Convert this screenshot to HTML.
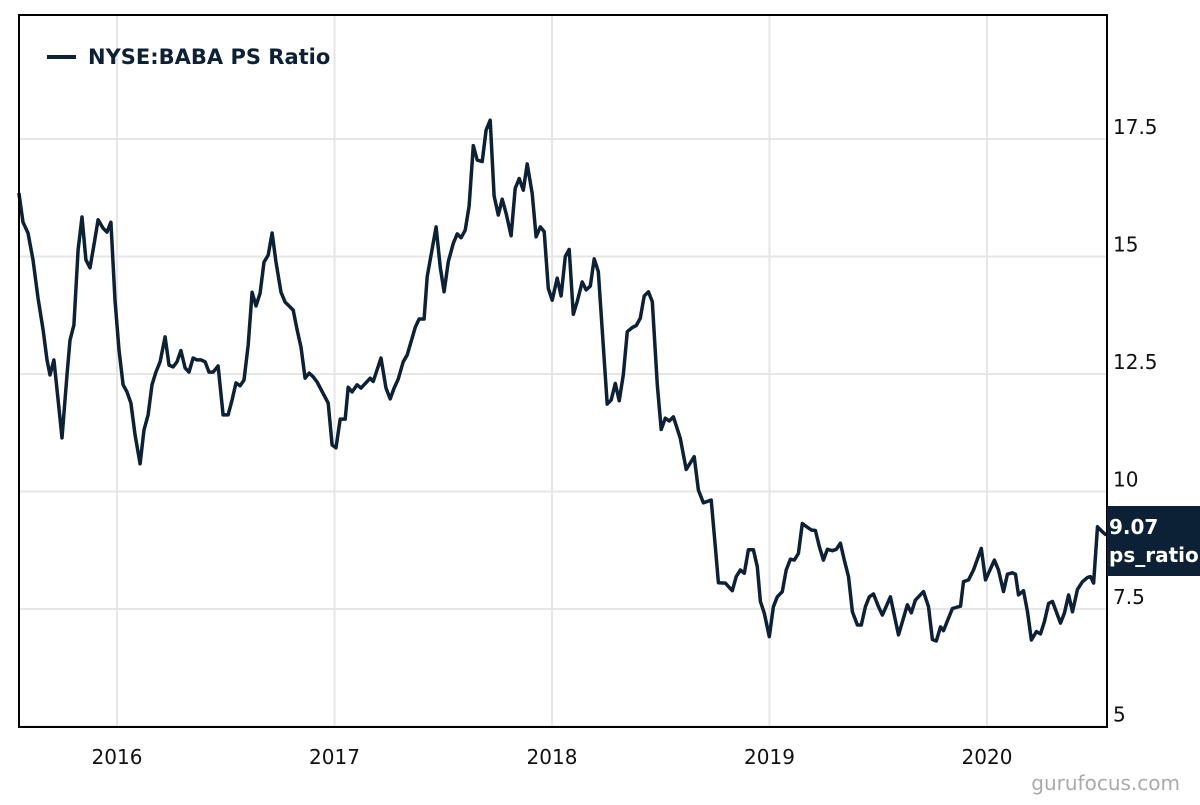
<!DOCTYPE html>
<html><head><meta charset="utf-8"><style>
body{margin:0;background:#fff;width:1200px;height:800px;overflow:hidden;font-family:"Liberation Sans",sans-serif}
svg text{font-family:"DejaVu Sans","Liberation Sans",sans-serif}
</style></head><body>
<svg id="chart" width="1200" height="800" xmlns="http://www.w3.org/2000/svg">
<g id="grid"></g>
<g id="axes"></g>
<path id="line" fill="none" stroke="#0d2136" stroke-width="3.5" stroke-linejoin="round"/>
<rect x="19" y="15" width="1088" height="712" fill="none" stroke="#000" stroke-width="2"/>
<g>
<line x1="47" y1="57" x2="76" y2="57" stroke="#0d2136" stroke-width="4"/>
<text x="88" y="64" font-size="21" font-weight="bold" fill="#0d2136">NYSE:BABA PS Ratio</text>
</g>
<g>
<rect x="1107" y="506" width="93" height="70" fill="#0d2136"/>
<text x="1109" y="534" font-size="20" font-weight="bold" fill="#fff">9.07</text>
<text x="1109" y="562" font-size="20" font-weight="bold" fill="#fff">ps_ratio</text>
</g>
<text x="1180" y="790" text-anchor="end" font-size="20" fill="#aaa">gurufocus.com</text>
</svg>
<script>
const dates = [2015.549,2015.568,2015.591,2015.614,2015.637,2015.660,2015.678,2015.692,2015.710,2015.729,2015.747,2015.770,2015.784,2015.802,2015.821,2015.839,2015.857,2015.876,2015.894,2015.913,2015.936,2015.954,2015.972,2015.991,2016.009,2016.028,2016.046,2016.064,2016.083,2016.106,2016.124,2016.143,2016.161,2016.179,2016.198,2016.221,2016.239,2016.258,2016.276,2016.294,2016.313,2016.331,2016.350,2016.368,2016.386,2016.405,2016.423,2016.442,2016.465,2016.488,2016.511,2016.529,2016.547,2016.566,2016.584,2016.603,2016.621,2016.639,2016.658,2016.676,2016.695,2016.713,2016.731,2016.754,2016.773,2016.791,2016.810,2016.828,2016.846,2016.865,2016.883,2016.902,2016.920,
2016.971,2016.989,2017.007,2017.026,2017.049,2017.063,2017.081,2017.104,2017.122,2017.164,2017.178,2017.214,2017.237,2017.256,2017.274,2017.293,2017.316,2017.334,2017.371,2017.389,2017.412,2017.426,2017.467,2017.486,2017.504,2017.523,2017.546,2017.564,2017.582,2017.601,2017.619,2017.638,2017.656,2017.679,2017.697,2017.716,2017.734,2017.753,2017.771,2017.789,2017.812,2017.831,2017.849,2017.868,2017.886,2017.909,2017.927,2017.946,2017.964,2017.983,2018.001,2018.024,2018.042,2018.061,2018.079,2018.098,2018.116,2018.139,2018.157,2018.176,2018.194,2018.213,2018.254,2018.272,2018.291,2018.309,2018.328,2018.346,2018.369,2018.387,2018.406,2018.424,2018.443,2018.461,2018.484,2018.502,2018.521,2018.539,2018.558,
2018.590,2018.617,2018.654,2018.673,2018.696,2018.732,2018.751,2018.765,2018.797,2018.829,2018.847,2018.866,2018.884,2018.903,2018.926,2018.944,2018.958,2018.976,2018.999,2019.018,2019.036,2019.059,2019.077,2019.096,2019.114,2019.133,2019.151,2019.174,2019.192,2019.211,2019.229,2019.248,2019.266,2019.289,2019.307,2019.326,2019.344,2019.363,2019.381,2019.404,2019.422,2019.441,2019.459,2019.478,2019.501,
2019.519,2019.556,2019.593,2019.634,2019.652,2019.671,2019.708,2019.731,2019.749,2019.767,2019.786,2019.800,2019.841,2019.878,2019.892,2019.915,2019.938,2019.974,2019.993,2020.034,2020.053,2020.076,2020.094,2020.117,2020.131,2020.145,2020.168,2020.186,2020.204,2020.227,2020.246,2020.264,2020.283,2020.301,2020.338,2020.356,2020.375,2020.393,2020.416,2020.439,2020.462,2020.476,2020.490,2020.508,2020.531,2020.549];
const values = [16.35,15.73,15.5,14.93,14.12,13.44,12.8,12.48,12.8,11.95,11.14,12.48,13.22,13.54,15.14,15.84,14.93,14.76,15.24,15.78,15.6,15.52,15.73,14.07,13.01,12.27,12.12,11.88,11.2,10.59,11.31,11.63,12.27,12.54,12.76,13.29,12.69,12.65,12.76,13.0,12.63,12.54,12.84,12.8,12.8,12.76,12.54,12.54,12.67,11.63,11.63,11.95,12.31,12.25,12.37,13.12,14.24,13.95,14.22,14.88,15.03,15.5,14.88,14.24,14.03,13.95,13.86,13.44,13.07,12.41,12.52,12.44,12.33,
11.88,10.99,10.93,11.54,11.54,12.22,12.12,12.27,12.2,12.41,12.34,12.84,12.2,11.97,12.2,12.39,12.76,12.9,13.49,13.67,13.67,14.57,15.63,14.78,14.25,14.89,15.28,15.48,15.4,15.56,16.07,17.36,17.05,17.02,17.69,17.9,16.29,15.88,16.22,15.92,15.44,16.45,16.66,16.41,16.97,16.34,15.42,15.63,15.53,14.32,14.07,14.54,14.16,15.0,15.15,13.77,14.04,14.46,14.29,14.37,14.95,14.68,11.86,11.95,12.3,11.93,12.48,13.4,13.49,13.53,13.69,14.16,14.25,14.04,12.27,11.32,11.56,11.5,11.59,
11.13,10.47,10.74,10.03,9.76,9.82,8.83,8.06,8.05,7.89,8.19,8.33,8.26,8.76,8.76,8.4,7.66,7.41,6.91,7.55,7.76,7.87,8.33,8.56,8.54,8.68,9.32,9.24,9.18,9.17,8.83,8.54,8.77,8.74,8.77,8.9,8.54,8.19,7.44,7.16,7.16,7.55,7.76,7.82,7.55,
7.37,7.76,6.95,7.59,7.42,7.69,7.87,7.55,6.85,6.82,7.12,7.04,7.51,7.56,8.08,8.12,8.33,8.79,8.12,8.54,8.33,7.87,8.24,8.27,8.24,7.8,7.89,7.44,6.84,7.02,6.97,7.23,7.62,7.66,7.2,7.41,7.8,7.44,7.92,8.08,8.17,8.19,8.05,9.25,9.14,9.07];
const yTicks = [5,7.5,10,12.5,15,17.5];
const yTickLabels = ["5","7.5","10","12.5","15","17.5"];
const xTicks = [2016,2017,2018,2019,2020];
const xTickLabels = ["2016","2017","2018","2019","2020"];

const X = yr => 117 + (yr-2016)*217.5;
const Y = v => 256.5 + (15-v)*47;
const NS = "http://www.w3.org/2000/svg";
const grid = document.getElementById('grid'), axes = document.getElementById('axes');
yTicks.forEach((t,i)=>{
  const l=document.createElementNS(NS,'line');
  
  
  l.setAttribute('x1',19);l.setAttribute('x2',1107);l.setAttribute('y1',Y(t));l.setAttribute('y2',Y(t));
  l.setAttribute('stroke','#e6e6e6');l.setAttribute('stroke-width',2);grid.appendChild(l);
  const tx=document.createElementNS(NS,'text');
  
  
  tx.setAttribute('x',1113);tx.setAttribute('y',Y(t)-5);tx.setAttribute('font-size',20);tx.setAttribute('fill','#111');
  tx.textContent=yTickLabels[i];axes.appendChild(tx);
});
xTicks.forEach((t,i)=>{
  const l=document.createElementNS(NS,'line');
  
  
  l.setAttribute('x1',X(t));l.setAttribute('x2',X(t));l.setAttribute('y1',15);l.setAttribute('y2',727);
  l.setAttribute('stroke','#e6e6e6');l.setAttribute('stroke-width',2);grid.appendChild(l);
  const tx=document.createElementNS(NS,'text');
  
  
  tx.setAttribute('x',X(t));tx.setAttribute('y',764);tx.setAttribute('font-size',20);tx.setAttribute('text-anchor','middle');tx.setAttribute('fill','#111');
  tx.textContent=xTickLabels[i];axes.appendChild(tx);
});
const n=Math.min(dates.length, values.length);
let d='';
for(let i=0;i<n;i++){d+=(i?'L':'M')+X(dates[i]).toFixed(1)+','+Y(values[i]).toFixed(1);}
document.getElementById('line').setAttribute('d',d);
</script>
</body></html>
